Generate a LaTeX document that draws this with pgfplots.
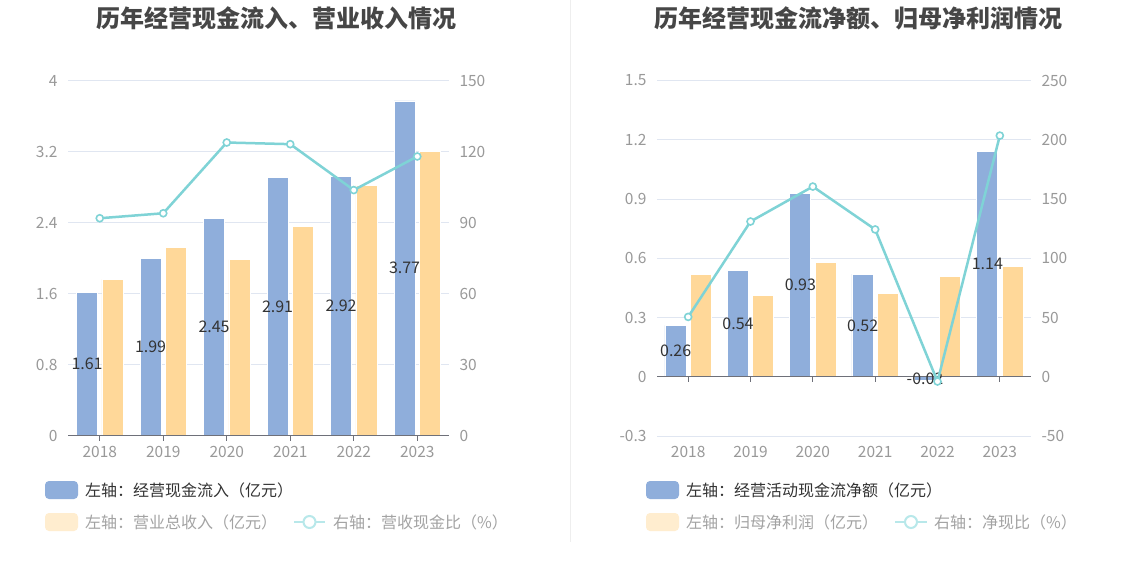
\documentclass[border=0pt]{standalone}
\usepackage{pgfplots}
\pgfplotsset{compat=1.18}
\usepackage{pgfplotstable}
\usepackage{fontspec}
\setmainfont{Noto Sans CJK SC}
\definecolor{bluec}{HTML}{8FAEDB}
\definecolor{orangec}{HTML}{FFD899}
\definecolor{tealc}{HTML}{7FD3D6}
\definecolor{gridc}{HTML}{E0E6F1}
\definecolor{axisc}{HTML}{6E7079}
\definecolor{tickc}{HTML}{999999}
\definecolor{titlec}{HTML}{464646}
\definecolor{labc}{HTML}{333333}
\definecolor{fadeorange}{HTML}{FFEDCF}
\definecolor{fadeteal}{HTML}{B8E8EA}
\definecolor{fadetext}{HTML}{A3A3A3}
\definecolor{divc}{HTML}{EEEEEE}

\pgfplotstableread{
x a b r
0 1.61 1.76 91.8
1 1.99 2.12 93.9
2 2.45 1.98 123.8
3 2.91 2.36 123.1
4 2.92 2.82 103.7
5 3.77 3.20 117.9
}\lefttab

\pgfplotstableread{
x a b r
0 0.26 0.52 50.5
1 0.54 0.41 131.0
2 0.93 0.58 160.5
3 0.52 0.42 124.3
4 -0.02 0.51 -4.0
5 1.14 0.56 203.5
}\righttab

\pgfplotsset{
  base/.style={
    anchor=south west, scale only axis, xmin=-0.5, xmax=5.5,
    axis line style={draw=none}, tick style={draw=none},
    ticklabel style={font=\fontsize{15.5}{18}\selectfont, text=tickc},
    /pgf/number format/assume math mode=true,
    clip=false,
  },
  leftax/.style={base, ymajorgrids, grid style={gridc, line width=1pt},
    ytick pos=left, xtick pos=bottom, xtick={0,1,2,3,4,5},
    xticklabels={2018,2019,2020,2021,2022,2023},
    xticklabel style={yshift=-7pt},
    yticklabel style={xshift=-7pt}},
  rightax/.style={base, hide x axis, ytick pos=right, yticklabel pos=right,
    yticklabel style={xshift=7pt}},
  barA/.style={ybar, bar width=21pt, bar shift=-12.7pt, fill=bluec, draw=white, line width=0.8pt},
  barB/.style={ybar, bar width=21pt, bar shift=12.7pt, fill=orangec, draw=white, line width=0.8pt},
  lineR/.style={tealc, line width=2.5pt, mark=*, mark size=3.5pt,
    mark options={fill=white, draw=tealc, line width=1.6pt}},
  labs/.style={draw=none, mark=none, point meta=explicit,
    nodes near coords={\pgfmathprintnumber[fixed,precision=2]{\pgfplotspointmeta}},
    every node near coord/.append style={anchor=center, font=\fontsize{16}{19}\selectfont, text=labc}},
}

\begin{document}
\begin{tikzpicture}[x=1pt,y=1pt]
\useasboundingbox (0,0) rectangle (1134,582);
\fill[white] (0,0) rectangle (1134,582);
\draw[divc, line width=1pt] (570,582) -- (570,40);

\node[font=\fontsize{24}{28}\selectfont\bfseries, text=titlec] at (276,564) {历年经营现金流入、营业收入情况};
\node[font=\fontsize{24}{28}\selectfont\bfseries, text=titlec] at (858,564) {历年经营现金流净额、归母净利润情况};

% ---------------- left chart
\begin{axis}[leftax, at={(68pt,146.5pt)}, width=381pt, height=355pt,
  ymin=0, ymax=4, ytick={0,0.8,1.6,2.4,3.2,4}]
\addplot[barA] table[x=x,y=a]{\lefttab};
\addplot[barB] table[x=x,y=b]{\lefttab};
\draw[axisc, line width=1pt] (axis cs:-0.5,0) -- (axis cs:5.5,0);
\pgfplotsinvokeforeach{0,1,2,3,4,5}{\draw[axisc, line width=1pt] (axis cs:#1,0) -- ++(0pt,-5pt);}
\addplot[labs] table[x expr=\thisrow{x}-0.2, y expr=\thisrow{a}/2, meta=a]{\lefttab};
\end{axis}
\begin{axis}[rightax, at={(68pt,146.5pt)}, width=381pt, height=355pt,
  ymin=0, ymax=150, ytick={0,30,60,90,120,150}]
\addplot[lineR] table[x=x,y=r]{\lefttab};
\end{axis}

% ---------------- right chart
\begin{axis}[leftax, at={(657pt,146pt)}, width=374pt, height=355.5pt,
  ymin=-0.3, ymax=1.5, ytick={-0.3,0,0.3,0.6,0.9,1.2,1.5}]
\addplot[barA] table[x=x,y=a]{\righttab};
\addplot[barB] table[x=x,y=b]{\righttab};
\draw[axisc, line width=1pt] (axis cs:-0.5,0) -- (axis cs:5.5,0);
\pgfplotsinvokeforeach{0,1,2,3,4,5}{\draw[axisc, line width=1pt] (axis cs:#1,0) -- ++(0pt,-5pt);}
\addplot[labs] table[x expr=\thisrow{x}-0.2, y expr=\thisrow{a}/2, meta=a]{\righttab};
\end{axis}
\begin{axis}[rightax, at={(657pt,146pt)}, width=374pt, height=355.5pt,
  ymin=-50, ymax=250, ytick={-50,0,50,100,150,200,250}]
\addplot[lineR] table[x=x,y=r]{\righttab};
\end{axis}

% ---------------- legends
\begin{scope}[font=\fontsize{16}{19}\selectfont]
\fill[bluec, rounded corners=4pt] (45,83) rectangle (78,101);
\node[anchor=west, text=labc, inner sep=0pt] at (85,92) {左轴：经营现金流入（亿元）};
\fill[fadeorange, rounded corners=4pt] (45,51) rectangle (78,69);
\node[anchor=west, text=fadetext, inner sep=0pt] at (85,60) {左轴：营业总收入（亿元）};
\draw[fadeteal, line width=2.5pt] (294,60) -- (325,60);
\draw[fadeteal, line width=2pt, fill=white] (309.5,60) circle (6pt);
\node[anchor=west, text=fadetext, inner sep=0pt] at (333,60) {右轴：营收现金比（\%）};

\fill[bluec, rounded corners=4pt] (646,83) rectangle (679,101);
\node[anchor=west, text=labc, inner sep=0pt] at (686,92) {左轴：经营活动现金流净额（亿元）};
\fill[fadeorange, rounded corners=4pt] (646,51) rectangle (679,69);
\node[anchor=west, text=fadetext, inner sep=0pt] at (686,60) {左轴：归母净利润（亿元）};
\draw[fadeteal, line width=2.5pt] (895,60) -- (927,60);
\draw[fadeteal, line width=2pt, fill=white] (911,60) circle (6pt);
\node[anchor=west, text=fadetext, inner sep=0pt] at (934,60) {右轴：净现比（\%）};
\end{scope}
\end{tikzpicture}
\end{document}
